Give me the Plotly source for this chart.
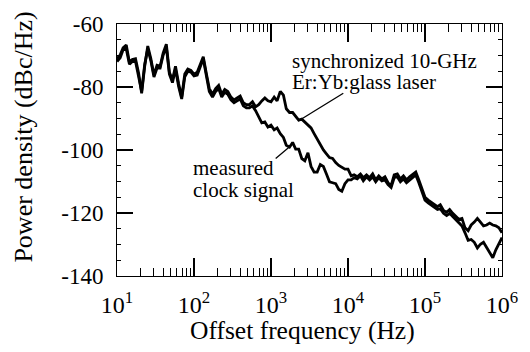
import plotly.graph_objects as go

freq_hz = [
    10, 11.0, 12.0, 13.2, 14.5, 15.8, 17.4, 19.1, 20.9, 22.9, 25.1, 27.5, 30.2, 33.1, 36.3, 39.8, 43.7, 47.9, 52.5, 57.5, 63.1, 69.2, 75.9, 83.2, 91.2,
    100, 110, 120, 132, 145, 158, 174, 191, 209, 229, 251, 275, 302, 331, 363, 398, 437, 479, 525, 575, 631, 692, 759, 832, 912,
    1000, 1100, 1200, 1320, 1450, 1580, 1740, 1910, 2090, 2290, 2510, 2750, 3020, 3310, 3630, 3980, 4370, 4790, 5250, 5750, 6310, 6920, 7590, 8320, 9120,
    10000, 11000, 12000, 13200, 14500, 15800, 17400, 19100, 20900, 22900, 25100, 27500, 30200, 33100, 36300, 39800, 43700, 47900, 52500, 57500, 63100, 69200, 75900, 83200, 91200,
    100000, 110000, 120000, 132000, 145000, 158000, 174000, 191000, 209000, 229000, 251000, 275000, 302000, 331000, 363000, 398000, 437000, 479000, 525000, 575000, 631000, 692000, 759000, 832000, 912000,
    1000000,
]

laser_dbc = [
    -71.0, -69.8, -67.6, -66.7, -72.2, -71.3, -71.0, -75.6, -82.0, -73.4,
    -67.0, -71.0, -76.2, -73.1, -73.4, -69.2, -66.4, -75.3, -77.7, -73.4,
    -78.9, -83.2, -75.9, -74.3, -74.7, -75.9, -75.3, -73.1, -70.4, -75.9,
    -80.5, -82.3, -80.5, -79.5, -82.3, -80.8, -81.4, -83.2, -84.1, -83.5,
    -82.9, -85.0, -85.6, -85.6, -84.7, -86.3, -85.6, -84.4, -83.5, -84.4,
    -84.7, -83.2, -84.4, -81.4, -82.6, -86.9, -88.1, -88.1, -89.3, -90.5,
    -90.2, -91.1, -91.8, -93.0, -94.8, -96.6, -98.5, -100.0, -101.2, -102.4,
    -102.7, -104.0, -104.9, -105.5, -106.1, -106.1, -108.2, -107.9, -108.5, -107.6,
    -108.8, -107.9, -108.8, -107.6, -109.5, -108.2, -109.2, -108.5, -110.4, -111.3,
    -107.9, -107.6, -109.2, -108.2, -109.5, -108.5, -107.6, -107.0, -109.5, -112.2,
    -115.0, -115.9, -116.5, -117.1, -118.0, -117.4, -119.2, -119.8, -118.9, -120.1,
    -121.1, -122.0, -121.7, -124.7, -125.6, -123.8, -122.9, -121.7, -122.9, -124.1,
    -123.8, -123.2, -123.8, -124.1, -124.7, -126.3,
]

clock_dbc = [
    -71.9, -70.7, -68.2, -67.9, -72.8, -71.9, -71.9, -76.5, -81.4, -72.8,
    -67.9, -71.6, -76.8, -74.0, -74.0, -69.8, -67.3, -75.9, -78.6, -74.3,
    -79.8, -83.8, -76.8, -75.0, -75.3, -76.5, -76.2, -73.7, -71.0, -76.5,
    -81.4, -83.2, -81.4, -80.5, -83.2, -81.7, -82.3, -84.1, -85.0, -84.4,
    -83.8, -86.0, -86.6, -86.6, -86.0, -87.5, -89.3, -91.4, -91.1, -92.7,
    -92.1, -93.6, -93.0, -94.8, -96.0, -98.5, -99.1, -97.6, -99.7, -99.7,
    -102.7, -103.4, -100.9, -105.2, -107.0, -107.0, -104.6, -105.2, -107.6, -110.1,
    -110.4, -110.7, -112.5, -113.1, -110.7, -109.5, -109.5, -108.8, -109.2, -108.2,
    -109.8, -108.5, -109.5, -108.5, -110.1, -108.8, -109.8, -109.5, -111.0, -111.9,
    -108.8, -108.5, -110.1, -109.2, -110.4, -109.5, -108.5, -107.9, -110.4, -113.1,
    -115.9, -116.8, -117.4, -118.0, -118.9, -118.6, -120.1, -120.8, -120.1, -121.1,
    -122.0, -123.2, -124.1, -126.3, -128.7, -128.4, -129.3, -131.1, -129.9, -129.3,
    -130.8, -132.7, -134.2, -131.7, -129.6, -127.8,
]

# leader-line end points (Hz, dBc/Hz)
laser_leader_hz = [2260, 8690]
laser_leader_db = [-90.8, -82.0]
clock_leader_hz = [1150, 1840]
clock_leader_db = [-102.7, -98.5]

x_ticks = [10, 100, 1000, 10000, 100000, 1000000]
x_tick_labels = ["10<sup>1</sup>", "10<sup>2</sup>", "10<sup>3</sup>",
                 "10<sup>4</sup>", "10<sup>5</sup>", "10<sup>6</sup>"]
x_minor_ticks = [m * d for d in (10, 100, 1000, 10000, 100000) for m in (2, 3, 4, 5, 6, 7, 8, 9)]
y_ticks = [-140, -120, -100, -80, -60]
y_tick_labels = ["-140", "-120", "-100", "-80", "-60"]
y_minor_ticks = [-135, -130, -125, -115, -110, -105, -95, -90, -85, -75, -70, -65]

FONT = "Liberation Serif"
X_RANGE = [1, 6]
Y_RANGE = [-140, -60]

fig = go.Figure()
fig.add_trace(go.Scatter(x=freq_hz, y=laser_dbc, mode="lines",
                         line=dict(color="black", width=2.8), showlegend=False))
# clock trace drawn on overlay axes (same ranges) that carry the minor ticks
fig.add_trace(go.Scatter(x=freq_hz, y=clock_dbc, mode="lines", xaxis="x2", yaxis="y2",
                         line=dict(color="black", width=2.8), showlegend=False))
fig.add_trace(go.Scatter(x=laser_leader_hz, y=laser_leader_db, mode="lines",
                         line=dict(color="black", width=1.3), showlegend=False, hoverinfo="skip"))
fig.add_trace(go.Scatter(x=clock_leader_hz, y=clock_leader_db, mode="lines",
                         line=dict(color="black", width=1.3), showlegend=False, hoverinfo="skip"))

common = dict(showgrid=False, showline=True, linecolor="black",
              mirror="ticks", ticks="inside", tickcolor="black")

fig.update_layout(
    width=530, height=352,
    margin=dict(l=117, r=20, t=14, b=76),
    paper_bgcolor="white", plot_bgcolor="white",
    font=dict(family=FONT, color="black", size=23),
    showlegend=False,
    xaxis=dict(type="log", range=X_RANGE, tickvals=x_ticks, ticktext=x_tick_labels,
               ticklen=18, tickwidth=2, ticklabelstandoff=7,
               tickfont=dict(size=24, family=FONT, color="black"), **common),
    yaxis=dict(range=Y_RANGE, tickvals=y_ticks, ticktext=y_tick_labels,
               ticklen=16, tickwidth=2, ticklabelstandoff=8,
               tickfont=dict(size=23, family=FONT, color="black"), **common),
    xaxis2=dict(type="log", range=X_RANGE, overlaying="x", anchor="y2", side="bottom",
                tickvals=x_minor_ticks, showticklabels=False, ticklen=8, tickwidth=1, **common),
    yaxis2=dict(range=Y_RANGE, overlaying="y", anchor="x2", side="left",
                tickvals=y_minor_ticks, showticklabels=False, ticklen=4, tickwidth=1, **common),
)

# axis titles
fig.add_annotation(xref="paper", yref="paper", x=0.481, y=-0.2176, text="Offset frequency (Hz)",
                   showarrow=False, xanchor="center", yanchor="middle",
                   font=dict(size=25.5, family=FONT, color="black"))
fig.add_annotation(xref="paper", yref="paper", x=-0.2417, y=0.553, text="Power density (dBc/Hz)",
                   showarrow=False, xanchor="center", yanchor="middle", textangle=-90,
                   font=dict(size=26, family=FONT, color="black"))

ann_font = dict(size=21, family=FONT, color="black")
fig.add_annotation(x=3.252, y=-71.6, text="synchronized 10-GHz", showarrow=False,
                   xanchor="left", yanchor="middle", font=ann_font)
fig.add_annotation(x=3.252, y=-78.4, text="Er:Yb:glass laser", showarrow=False,
                   xanchor="left", yanchor="middle", font=ann_font)
fig.add_annotation(x=1.967, y=-105.8, text="measured", showarrow=False,
                   xanchor="left", yanchor="middle", font=ann_font)
fig.add_annotation(x=1.967, y=-112.8, text="clock signal", showarrow=False,
                   xanchor="left", yanchor="middle", font=ann_font)

fig.write_html("out.html")
